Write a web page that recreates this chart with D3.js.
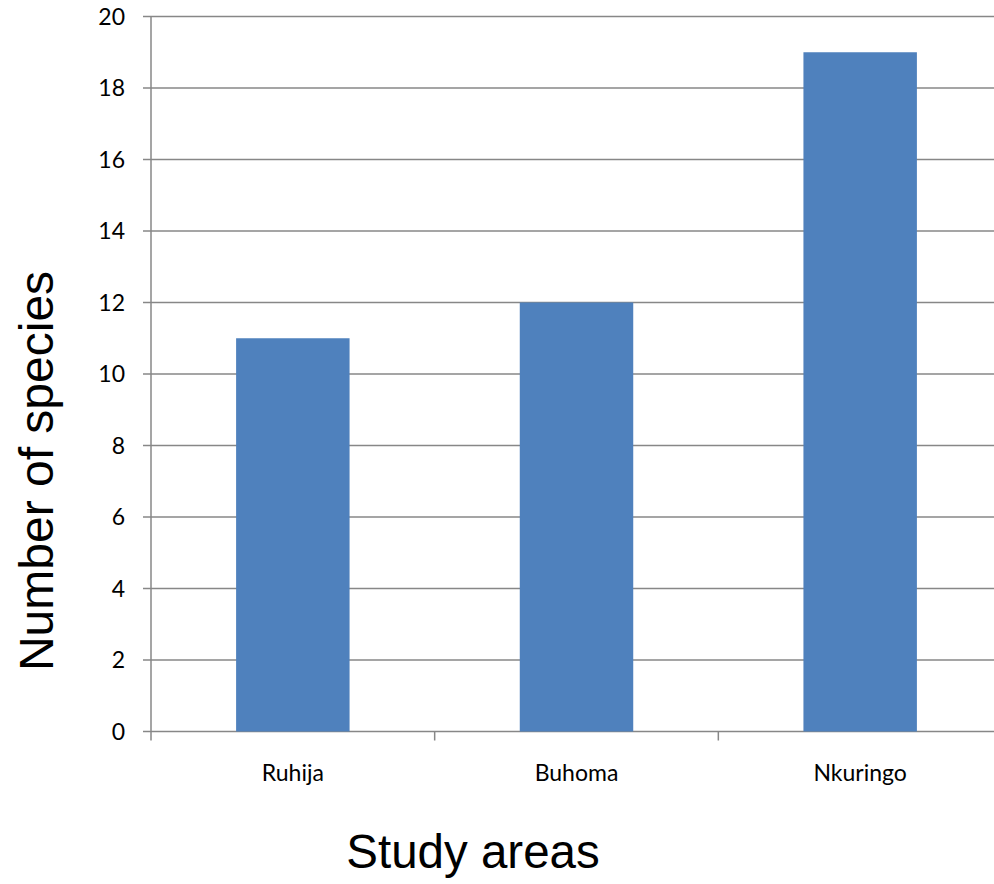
<!DOCTYPE html>
<html>
<head>
<meta charset="utf-8">
<script src="https://cdn.jsdelivr.net/npm/d3@7"></script>
<style>
  html, body { margin: 0; padding: 0; background: #fff; }
  svg { display: block; }
</style>
</head>
<body>
<svg id="chart" width="994" height="884"></svg>
<script>
const categories = ["Ruhija", "Buhoma", "Nkuringo"];
const speciesCounts = [11, 12, 19];
const yTicks = [0, 2, 4, 6, 8, 10, 12, 14, 16, 18, 20];
const xTitle = "Study areas";
const yTitle = "Number of species";

(function () {
const svg = d3.select("#chart");
const W = 994;
const plotLeft = 151, plotRight = 1002, plotTop = 16.5, plotBottom = 731.5;
const gridColor = "#878787";
const barColor = "#4F81BD";
const tickFont = "Lato, 'Open Sans', sans-serif";
const titleFont = "'Liberation Sans', Arial, sans-serif";

const x = d3.scaleBand().domain(categories).range([plotLeft, plotRight]).paddingInner(0.6).paddingOuter(0.3);
const xb = d3.scaleBand().domain(categories).range([plotLeft, plotRight]).padding(0);
const y = d3.scaleLinear().domain([0, 20]).range([plotBottom, plotTop]);

// gridlines (including tick extension to the left)
svg.append("g").selectAll("line").data(yTicks).join("line")
  .attr("x1", plotLeft - 8).attr("x2", W)
  .attr("y1", d => y(d)).attr("y2", d => y(d))
  .attr("stroke", gridColor).attr("stroke-width", 1.5);

// y axis line
svg.append("line")
  .attr("x1", plotLeft).attr("x2", plotLeft)
  .attr("y1", y(20)).attr("y2", y(0) + 9)
  .attr("stroke", gridColor).attr("stroke-width", 1.5);

// x axis category boundary ticks
const boundaries = categories.map(c => xb(c)).concat([xb(categories[categories.length - 1]) + xb.bandwidth()]);
svg.append("g").selectAll("line").data(boundaries.slice(1)).join("line")
  .attr("x1", d => d).attr("x2", d => d)
  .attr("y1", y(0)).attr("y2", y(0) + 9)
  .attr("stroke", gridColor).attr("stroke-width", 1.5);

// bars
svg.append("g").selectAll("rect").data(categories).join("rect")
  .attr("x", d => x(d))
  .attr("width", x.bandwidth())
  .attr("y", (d, i) => y(speciesCounts[i]))
  .attr("height", (d, i) => y(0) - y(speciesCounts[i]))
  .attr("fill", barColor);

// y tick labels
svg.append("g").selectAll("text").data(yTicks).join("text")
  .attr("x", plotLeft - 26).attr("y", d => y(d))
  .attr("dy", "0.35em")
  .attr("text-anchor", "end")
  .attr("font-family", tickFont).attr("font-size", 23)
  .attr("fill", "#000")
  .text(d => d);

// x tick labels
svg.append("g").selectAll("text").data(categories).join("text")
  .attr("x", d => xb(d) + xb.bandwidth() / 2)
  .attr("y", 781)
  .attr("text-anchor", "middle")
  .attr("font-family", tickFont).attr("font-size", 23)
  .attr("fill", "#000")
  .text(d => d);

// axis titles
svg.append("text")
  .attr("transform", "translate(53,471) rotate(-90)")
  .attr("text-anchor", "middle")
  .attr("font-family", titleFont).attr("font-size", 48)
  .attr("fill", "#000")
  .text(yTitle);

svg.append("text")
  .attr("x", 473).attr("y", 868)
  .attr("text-anchor", "middle")
  .attr("font-family", titleFont).attr("font-size", 47.5)
  .attr("fill", "#000")
  .text(xTitle);
})();
</script>
</body>
</html>
